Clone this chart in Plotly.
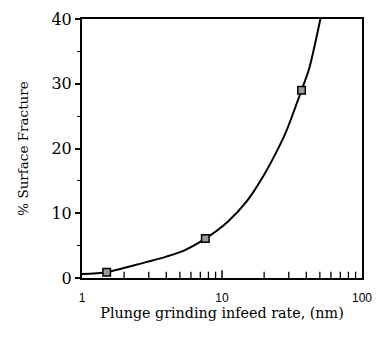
import plotly.graph_objects as go

# measured data points
point_x = [1.5, 7.6, 37]
point_y = [0.9, 6.1, 29.0]

# fitted curve
curve_x = [1.0, 1.5, 2.4, 4.0, 5.3, 7.5, 11.0, 15.2, 19.8, 24.4, 28.7, 37.0, 42.0, 51.0]
curve_y = [0.6, 0.9, 2.0, 3.3, 4.2, 6.0, 8.7, 12.0, 15.8, 19.4, 22.6, 29.0, 32.4, 40.5]

x_major = [1, 10, 100]
x_major_text = ["1", "10", "100"]
x_minor = [2, 3, 4, 5, 6, 7, 8, 9, 20, 30, 40, 50, 60, 70, 80, 90]
y_tickvals = [0, 10, 20, 30, 40]
y_min = 0

SERIF = "DejaVu Serif"

fig = go.Figure()
fig.add_trace(go.Scatter(x=curve_x, y=curve_y, mode="lines",
                         line=dict(color="black", width=2, shape="spline", smoothing=0.8),
                         hoverinfo="skip"))
fig.add_trace(go.Scatter(x=point_x, y=point_y, mode="markers",
                         marker=dict(symbol="square", size=7.5, color="#9a9a9a",
                                     line=dict(color="black", width=1.5))))
# inward-pointing x tick marks (lower half clipped by the plot area)
fig.add_trace(go.Scatter(x=x_minor, y=[y_min] * len(x_minor), mode="markers",
                         cliponaxis=True, hoverinfo="skip",
                         marker=dict(symbol="line-ns", size=9,
                                     line=dict(color="black", width=1.3))))
fig.add_trace(go.Scatter(x=[x_major[1]], y=[y_min], mode="markers",
                         cliponaxis=True, hoverinfo="skip",
                         marker=dict(symbol="line-ns", size=11,
                                     line=dict(color="black", width=1.5))))

fig.update_layout(
    width=382, height=339,
    margin=dict(l=82, r=10, t=14, b=61),
    paper_bgcolor="white", plot_bgcolor="white",
    showlegend=False,
    xaxis=dict(type="log", range=[0, 2], tickmode="array",
               tickvals=x_major, ticktext=x_major_text,
               ticks="", ticklabelstandoff=8,
               showline=True, linecolor="black", linewidth=2, mirror=True,
               showgrid=False, zeroline=False,
               tickfont=dict(family="Liberation Sans", size=12, color="black"),
               title=dict(text="Plunge grinding infeed rate, (nm)",
                          font=dict(family=SERIF, size=14.3, color="black"),
                          standoff=4)),
    yaxis=dict(range=[0, 40], tickvals=y_tickvals,
               ticks="outside", ticklen=5, tickwidth=1.5, tickcolor="black",
               minor=dict(dtick=5, ticks="outside", ticklen=3, tickwidth=1.2,
                          tickcolor="black", showgrid=False),
               showline=True, linecolor="black", linewidth=2, mirror=True,
               showgrid=False, zeroline=False,
               tickfont=dict(family=SERIF, size=16, color="black"),
               title=dict(text="% Surface Fracture",
                          font=dict(family=SERIF, size=13.5, color="black"),
                          standoff=20)),
)

fig.write_html("out.html", config={"displayModeBar": False},
               post_script="document.body.style.margin='0';")
